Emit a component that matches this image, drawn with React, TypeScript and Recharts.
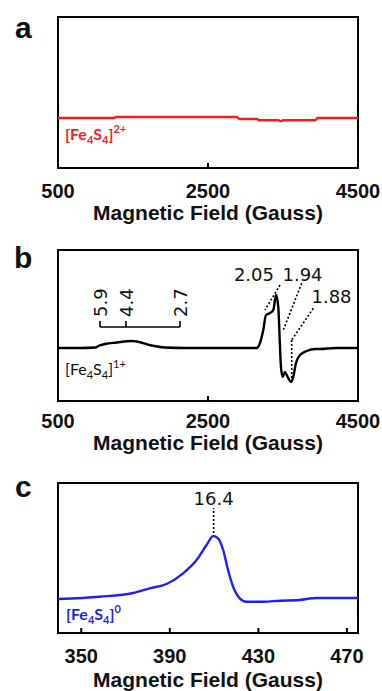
import React from "react";
import {
  LineChart,
  Line,
  XAxis,
  YAxis,
  ReferenceArea,
  ReferenceLine,
  ReferenceDot,
} from "recharts";

// panel a: [Fe4S4]2+ (flat)
const aField = [500, 1250, 1270, 2880, 2920, 3150, 3190, 3440, 3470, 3500, 3930, 3960, 4500];
const aSignal = [0, 0, 1, 1, -1, -1, -2.3, -2.3, -3.3, -2.3, -2.3, 0, 0];

// panel b: [Fe4S4]1+
const bField = [
  500, 800, 1000, 1037, 1127, 1283, 1483, 1549, 1749, 1927, 2200, 2600, 3000, 3149, 3193,
  3237, 3273, 3327, 3371, 3407, 3437, 3460, 3473, 3496, 3527, 3563, 3607, 3637, 3673, 3727,
  3816, 3927, 3993, 4200, 4500,
];
const bSignal = [
  0, 0, 0.5, 2, 4, 5.5, 7, 6.5, 2.5, 0.5, 0, 0, 0, 0, 5,
  18, 33, 35, 38, 53, 41, 1, -19, -29, -24, -29, -34, -29, -15, -7,
  -3, -1, -1, 0, 0,
];

// panel c: [Fe4S4]0
const cField = [
  339.5, 358.4, 373.3, 381, 388.5, 396, 402.1, 406.6, 409.6, 411.8, 414.1, 416.3, 418.6,
  421.6, 424.6, 432.1, 440, 448.5, 456.2, 475,
];
const cSignal = [
  0, 2.3, 6, 10.7, 15, 25.7, 39, 54, 63, 60.7, 49, 29, 12.3, 0.7, -2.7, -2.7, -1.7, -1, 1, 1,
];

const abTicks = [500, 2500, 4500];
const cTicks = [350, 390, 430, 470];

// g-value markers
const bracketLabels = ["5.9", "4.4", "2.7"];
const bracketField = [1060, 1407, 2127];
const gLabels = ["2.05", "1.94", "1.88"];
const gLabelField = [3113, 3760, 4147];
const gLabelValue = [67, 67, 45];

const BOLD = '"Liberation Sans", Arial, sans-serif';
const PLAIN = '"DejaVu Sans", sans-serif';
const TITLE = "Magnetic Field (Gauss)";

const toRows = (f: number[], s: number[]) => f.map((field, i) => ({ field, signal: s[i] }));

const makeTick = (domain: number[], baseline: number) => (props: any) => {
  const { x, y, payload } = props;
  const v = payload.value;
  const edge = v === domain[0] || v === domain[1];
  return (
    <g>
      {!edge && <line x1={x} x2={x} y1={y} y2={y - 5} stroke="#000" strokeWidth={2} />}
      <text x={x} y={y + baseline} textAnchor="middle" fontFamily={BOLD} fontWeight={700} fontSize={20} fill="#111">
        {v}
      </text>
    </g>
  );
};

const makeTitle = (baseline: number) => (props: any) => {
  const vb = props.viewBox;
  return (
    <text x={vb.x + vb.width / 2} y={vb.y + baseline} textAnchor="middle" fontFamily={BOLD} fontWeight={700} fontSize={21} fill="#111">
      {TITLE}
    </text>
  );
};

const plainText = (value: string) => (props: any) => {
  const vb = props.viewBox;
  return (
    <text x={vb.x} y={vb.y} textAnchor="middle" fontFamily={PLAIN} fontSize={18} fill="#111">
      {value}
    </text>
  );
};

const rotatedText = (value: string) => (props: any) => {
  const vb = props.viewBox;
  return (
    <text x={vb.x} y={vb.y} dy={6.5} transform={`rotate(-90 ${vb.x} ${vb.y})`} textAnchor="start" fontFamily={PLAIN} fontSize={18} fill="#111">
      {value}
    </text>
  );
};

const dotted = { stroke: "#000", strokeWidth: 1.6, strokeDasharray: "2 2" };

type PanelProps = {
  top: number;
  height: number;
  marginTop: number;
  axisHeight: number;
  tickBaseline: number;
  titleBaseline: number;
  xDomain: number[];
  yDomain: number[];
  ticks: number[];
  rows: { field: number; signal: number }[];
  color: string;
  children?: React.ReactNode;
};

const Panel = (p: PanelProps) => (
  <div style={{ position: "absolute", left: 0, top: p.top }}>
    <LineChart width={382} height={p.height} data={p.rows} margin={{ top: p.marginTop, right: 24, bottom: 0, left: 58 }}>
      <XAxis
        type="number"
        dataKey="field"
        domain={p.xDomain}
        ticks={p.ticks}
        interval={0}
        allowDataOverflow
        axisLine={false}
        tickLine={false}
        tickSize={0}
        tickMargin={0}
        height={p.axisHeight}
        tick={makeTick(p.xDomain, p.tickBaseline)}
        label={makeTitle(p.titleBaseline)}
      />
      <YAxis hide type="number" domain={p.yDomain} allowDataOverflow />
      {p.children}
      <Line type="monotone" dataKey="signal" stroke={p.color} strokeWidth={2.4} dot={false} isAnimationActive={false} />
      <ReferenceArea x1={p.xDomain[0]} x2={p.xDomain[1]} y1={p.yDomain[0]} y2={p.yDomain[1]} fill="none" stroke="#000" strokeWidth={2} fillOpacity={0} />
    </LineChart>
  </div>
);

const Species = ({ x, y, color, weight, charge }: { x: number; y: number; color: string; weight: number; charge: string }) => (
  <text x={x} y={y} fill={color} fontFamily="Lato, sans-serif" fontWeight={weight} fontSize={16}>
    [Fe
    <tspan fontSize={11} dy={4}>4</tspan>
    <tspan dy={-4}>S</tspan>
    <tspan fontSize={11} dy={4}>4</tspan>
    <tspan dy={-4}>]</tspan>
    <tspan fontSize={11} dy={-7}>{charge}</tspan>
  </text>
);

export default function App() {
  return (
    <div style={{ position: "absolute", left: 0, top: 0, width: 382, height: 691, background: "#fff" }}>
      <Panel
        top={0}
        height={230}
        marginTop={17}
        axisHeight={62}
        tickBaseline={30}
        titleBaseline={52}
        xDomain={[500, 4500]}
        yDomain={[-50, 101]}
        ticks={abTicks}
        rows={toRows(aField, aSignal)}
        color="#ff1a1a"
      />
      <Panel
        top={230}
        height={230}
        marginTop={20}
        axisHeight={59}
        tickBaseline={27}
        titleBaseline={49}
        xDomain={[500, 4500]}
        yDomain={[-53, 98]}
        ticks={abTicks}
        rows={toRows(bField, bSignal)}
        color="#000"
      >
        <ReferenceLine segment={[{ x: bracketField[0], y: 21 }, { x: bracketField[2], y: 21 }]} stroke="#000" strokeWidth={1.6} />
        {bracketField.map((f) => (
          <ReferenceLine key={"t" + f} segment={[{ x: f, y: 21 }, { x: f, y: 27 }]} stroke="#000" strokeWidth={1.6} />
        ))}
        {bracketLabels.map((g, i) => (
          <ReferenceDot key={g} x={bracketField[i]} y={31} r={0} stroke="none" fill="none" label={rotatedText(g)} />
        ))}
        <ReferenceLine segment={[{ x: 3460, y: 63 }, { x: 3260, y: 38 }]} {...dotted} />
        <ReferenceLine segment={[{ x: 3749, y: 64.7 }, { x: 3504, y: 18 }]} {...dotted} />
        <ReferenceLine segment={[{ x: 3904, y: 39.7 }, { x: 3616, y: 8 }]} {...dotted} />
        <ReferenceLine segment={[{ x: 3616, y: 8 }, { x: 3616, y: -33.7 }]} {...dotted} />
        {gLabels.map((g, i) => (
          <ReferenceDot key={g} x={gLabelField[i]} y={gLabelValue[i]} r={0} stroke="none" fill="none" label={plainText(g)} />
        ))}
      </Panel>
      <Panel
        top={460}
        height={231}
        marginTop={23}
        axisHeight={58}
        tickBaseline={30}
        titleBaseline={54}
        xDomain={[339.5, 475]}
        yDomain={[-34, 116]}
        ticks={cTicks}
        rows={toRows(cField, cSignal)}
        color="#1f1fff"
      >
        <ReferenceLine segment={[{ x: 409.8, y: 66 }, { x: 409.8, y: 91 }]} {...dotted} />
        <ReferenceDot x={409.8} y={94} r={0} stroke="none" fill="none" label={plainText("16.4")} />
      </Panel>
      <svg width={382} height={691} style={{ position: "absolute", left: 0, top: 0, pointerEvents: "none" }}>
        <text x={15} y={38} fontFamily={BOLD} fontWeight={700} fontSize={30} fill="#111">a</text>
        <text x={14} y={268} fontFamily={BOLD} fontWeight={700} fontSize={30} fill="#111">b</text>
        <text x={15} y={497} fontFamily={BOLD} fontWeight={700} fontSize={30} fill="#111">c</text>
        <Species x={65} y={140} color="#ff1a1a" weight={700} charge="2+" />
        <Species x={65} y={375} color="#111" weight={400} charge="1+" />
        <Species x={66} y={620} color="#1f1fff" weight={700} charge="0" />
      </svg>
    </div>
  );
}
